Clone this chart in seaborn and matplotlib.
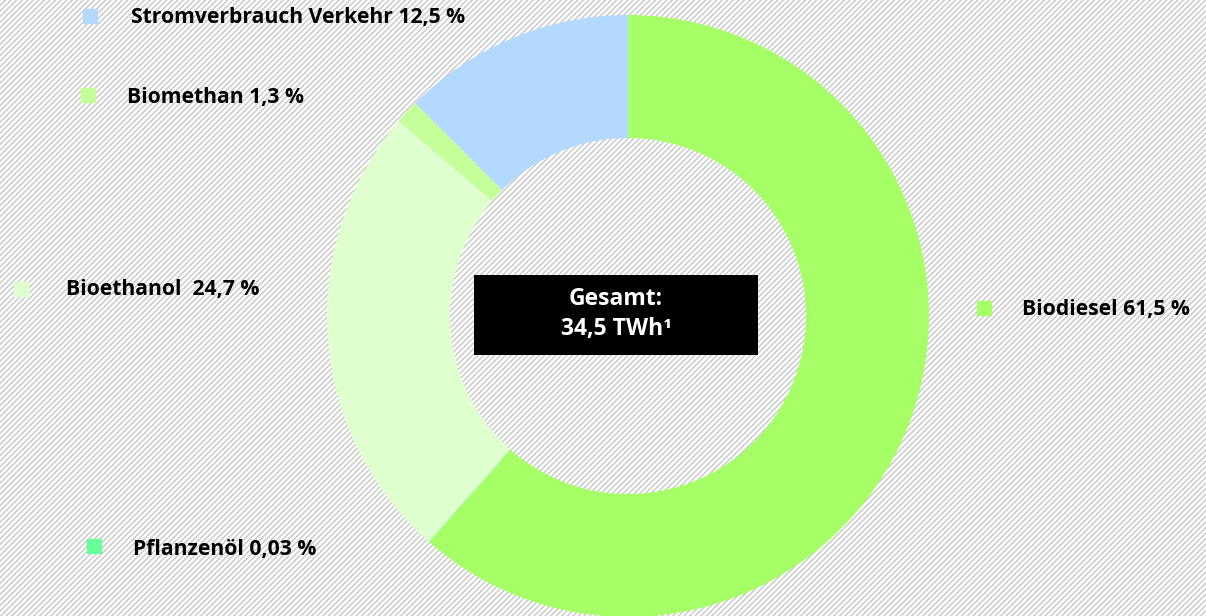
import matplotlib
matplotlib.use("Agg")
import matplotlib.pyplot as plt
import seaborn as sns
from matplotlib.patches import Rectangle

# Data
labels = ["Biodiesel 61,5 %", "Pflanzenöl 0,03 %", "Bioethanol  24,7 %",
          "Biomethan 1,3 %", "Stromverbrauch Verkehr 12,5 %"]
shares = [61.5, 0.03, 24.7, 1.3, 12.5]
colors = ["#a6ff66", "#66ff99", "#e0ffcf", "#c5ff99", "#b3d9ff"]
center_text = "Gesamt:\n34,5 TWh¹"

sns.set_theme(style="white")
plt.rcParams["font.family"] = ["Open Sans", "DejaVu Sans"]
plt.rcParams["hatch.linewidth"] = 1.0

W, H = 1206, 616
fig = plt.figure(figsize=(W / 100, H / 100), dpi=100)
ax = fig.add_axes([0, 0, 1, 1])

# hatched background
ax.add_patch(Rectangle((0, 0), W, H, facecolor="white", edgecolor="#c8c8c8",
                       linewidth=0, hatch="//////", zorder=0))

# donut
cx, cy, r_out, r_in = 628, H - 316, 301, 178
ax.pie(shares, colors=colors, startangle=90, counterclock=False,
       center=(cx, cy), radius=r_out, frame=True,
       wedgeprops=dict(width=r_out - r_in, linewidth=0))
ax.set_xlim(0, W)
ax.set_ylim(0, H)
ax.set_aspect("equal")
ax.axis("off")

# center box
ax.add_patch(Rectangle((474, H - 355), 284, 80, facecolor="black",
                       edgecolor="none", zorder=4))
ax.text(616, H - 314, center_text, color="white", fontsize=16.5,
        fontweight="bold", ha="center", va="center", linespacing=1.35, zorder=5)

# labels with square markers
marker_pos = [(984, 308), (94, 546), (21, 289), (88, 95), (90, 16)]
text_pos = [(1022, 310), (133, 549), (66, 290), (127, 98), (131, 18)]
for lab, col, (mx, my), (tx, ty) in zip(labels, colors, marker_pos, text_pos):
    ax.plot(mx, H - my, marker="s", markersize=10, color=col,
            linestyle="none", zorder=5)
    ax.text(tx, H - ty, lab, fontsize=15.2, fontweight="bold", color="black",
            ha="left", va="center", zorder=5)

fig.savefig("out.png", dpi=100)
